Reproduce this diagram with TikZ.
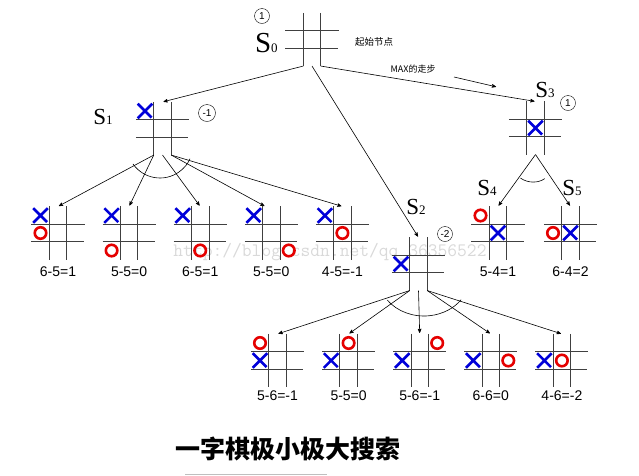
\documentclass[tikz,border=0pt]{standalone}
\usepackage{fontspec}
\setmainfont{Liberation Serif}
\setsansfont{Liberation Sans}
\newfontfamily\cjk{Noto Sans CJK SC}
\usetikzlibrary{arrows,shapes,positioning}
\tikzstyle{board} = [rectangle, minimum size=52.5pt, inner sep=0pt]
\tikzstyle{slab} = [inner sep=0pt, anchor=base east, font=\fontsize{23}{23}\selectfont]
\tikzstyle{score} = [inner sep=0pt, font=\sffamily\fontsize{14}{14}\selectfont]
\tikzstyle{xm} = [-, cross out, draw=blue!85!black, line width=2.6pt,
    minimum size=12pt, inner sep=0pt]
\tikzstyle{om} = [-, circle, draw=red!90!black, line width=2.6pt,
    minimum size=11.5pt, inner sep=0pt]
\tikzstyle{val} = [-, circle, draw, thin, inner sep=0pt, minimum size=15pt,
    font=\sffamily\fontsize{10}{10}\selectfont]
\tikzstyle{gl} = [-, black!75, line width=0.8pt]
\newcommand\sidx[1]{{\fontsize{13}{13}\selectfont #1}}
\newcommand\grid[1]{\draw[gl] ([xshift=-8.75pt]#1.north) -- ([xshift=-8.75pt]#1.south)
    ([xshift=8.75pt]#1.north) -- ([xshift=8.75pt]#1.south)
    ([yshift=8.75pt]#1.west) -- ([yshift=8.75pt]#1.east)
    ([yshift=-8.75pt]#1.west) -- ([yshift=-8.75pt]#1.east);}

\begin{document}
\begin{tikzpicture}[->,>=stealth',shorten >=1pt,semithick,x=1pt,y=-1pt]
  \useasboundingbox (0,0) rectangle (639,475);

  \node[inner sep=0pt,text=gray!30,font=\ttfamily\fontsize{19}{19}\selectfont] (wm) at (330,252) {http://blog.csdn.net/qq\_36356522};

  % boards
  \node[board] (s0) at (312,39.5) {};
  \node[board] (s1) at (162.5,128.5) {};
  \node[board] (s2) at (418.5,264) {};
  \node[board] (s3) at (535.5,128) {};
  \node[board] (s4) at (498,233) {};
  \node[board] (s5) at (570.5,233) {};
  \node[board] (c1) at (58,233) {};
  \node[board] (c2) [right=18pt of c1] {};
  \node[board] (c3) [right=18pt of c2] {};
  \node[board] (c4) [right=18pt of c3] {};
  \node[board] (c5) [right=18pt of c4] {};
  \node[board] (d1) at (277.5,360.5) {};
  \node[board] (d2) [right=18pt of d1] {};
  \node[board] (d3) [right=18pt of d2] {};
  \node[board] (d4) [right=18pt of d3] {};
  \node[board] (d5) [right=18pt of d4] {};
  \grid{s0} \grid{s1} \grid{s2} \grid{s3} \grid{s4} \grid{s5}
  \grid{c1} \grid{c2} \grid{c3} \grid{c4} \grid{c5}
  \grid{d1} \grid{d2} \grid{d3} \grid{d4} \grid{d5}

  % marks
  \node[xm] (s1x) at ([shift={(-17.5pt,17.5pt)}]s1.center) {};
  \node[xm] (s2x) at ([shift={(-17.5pt,0pt)}]s2.center) {};
  \node[xm] (s3x) at (s3.center) {};
  \node[om] (s4o) at ([shift={(-17.5pt,17.5pt)}]s4.center) {};
  \node[xm] (s4x) at (s4.center) {};
  \node[om] (s5o) at ([shift={(-17.5pt,0pt)}]s5.center) {};
  \node[xm] (s5x) at (s5.center) {};
  \node[xm] (c1x) at ([shift={(-17.5pt,17.5pt)}]c1.center) {};
  \node[om] (c1o) at ([shift={(-17.5pt,0pt)}]c1.center) {};
  \node[xm] (c2x) at ([shift={(-17.5pt,17.5pt)}]c2.center) {};
  \node[om] (c2o) at ([shift={(-17.5pt,-17.5pt)}]c2.center) {};
  \node[xm] (c3x) at ([shift={(-17.5pt,17.5pt)}]c3.center) {};
  \node[om] (c3o) at ([shift={(0pt,-17.5pt)}]c3.center) {};
  \node[xm] (c4x) at ([shift={(-17.5pt,17.5pt)}]c4.center) {};
  \node[om] (c4o) at ([shift={(17.5pt,-17.5pt)}]c4.center) {};
  \node[xm] (c5x) at ([shift={(-17.5pt,17.5pt)}]c5.center) {};
  \node[om] (c5o) at (c5.center) {};
  \node[om] (d1o) at ([shift={(-17.5pt,17.5pt)}]d1.center) {};
  \node[xm] (d1x) at ([shift={(-17.5pt,0pt)}]d1.center) {};
  \node[om] (d2o) at ([shift={(0pt,17.5pt)}]d2.center) {};
  \node[xm] (d2x) at ([shift={(-17.5pt,0pt)}]d2.center) {};
  \node[om] (d3o) at ([shift={(17.5pt,17.5pt)}]d3.center) {};
  \node[xm] (d3x) at ([shift={(-17.5pt,0pt)}]d3.center) {};
  \node[xm] (d4x) at ([shift={(-17.5pt,0pt)}]d4.center) {};
  \node[om] (d4o) at ([shift={(17.5pt,0pt)}]d4.center) {};
  \node[xm] (d5x) at ([shift={(-17.5pt,0pt)}]d5.center) {};
  \node[om] (d5o) at (d5.center) {};

  % labels
  \node[slab,font=\fontsize{29}{29}\selectfont] (l0) at (278,52) {S\sidx{0}};
  \node[slab] (l1) at (113,124) {S\sidx{1}};
  \node[slab] (l2) at (426,214) {S\sidx{2}};
  \node[slab] (l3) at (555,97) {S\sidx{3}};
  \node[slab] (l4) at (497,195) {S\sidx{4}};
  \node[slab] (l5) at (582,195) {S\sidx{5}};
  \node[val] (v0) at (262,16) {1};
  \node[val,minimum size=17pt] (v1) at (207,113) {-1};
  \node[val] (v2) at (445,234) {-2};
  \node[val] (v3) at (568,103) {1};
  \node[font=\cjk\fontsize{9.5}{9.5}\selectfont] (start) at (374,42) {起始节点};

  \node[score] (r1) [below=7pt of c1] {6-5=1};
  \node[score] (r2) [below=7pt of c2] {5-5=0};
  \node[score] (r3) [below=7pt of c3] {6-5=1};
  \node[score] (r4) [below=7pt of c4] {5-5=0};
  \node[score] (r5) [below=7pt of c5] {4-5=-1};
  \node[score] (r6) [below=7pt of s4] {5-4=1};
  \node[score] (r7) [below=7pt of s5] {6-4=2};
  \node[score] (q1) [below=3pt of d1] {5-6=-1};
  \node[score] (q2) [below=3pt of d2] {5-5=0};
  \node[score] (q3) [below=3pt of d3] {5-6=-1};
  \node[score] (q4) [below=3pt of d4] {6-6=0};
  \node[score] (q5) [below=3pt of d5] {4-6=-2};

  % moves
  \path ([xshift=-8.75pt]s0.south) edge (s1.north)
        (s0.south) edge (s2.north)
        ([xshift=8.75pt]s0.south) edge node[pos=0.43,above=4pt,font=\cjk\fontsize{9}{9}\selectfont] (max) {MAX的走步} (s3.north);
  \coordinate (m1) at (454,77);
  \coordinate (m2) at (497,87);
  \draw (m1) -- (m2);

  \path ([xshift=-8.75pt]s1.south) edge (c1.north) edge (c2.north)
        (s1.south) edge (c3.north)
        ([xshift=8.75pt]s1.south) edge ([xshift=-6pt]c4.north) edge (c5.north);
  \path ([xshift=-8.75pt]s2.south) edge (d1.north) edge (d2.north)
        (s2.south) edge (d3.north)
        ([xshift=8.75pt]s2.south) edge (d4.north) edge (d5.north);
  \path (s3.south) edge (s4.north) edge (s5.north);

  \draw[-] (160,145) ++(215:33pt) arc[start angle=215,end angle=337,radius=33pt];
  \draw[-] (424,276) ++(217:46pt and 40pt) arc[start angle=217,end angle=325,x radius=46pt,y radius=40pt];
  \draw[-] (533,160) ++(235:22pt) arc[start angle=235,end angle=305,radius=22pt];

  \node[font=\cjk\bfseries\fontsize{25}{25}\selectfont] (title) at (288,449) {一字棋极小极大搜索};
  \draw[-,gray!50,line width=1pt] (185,474) -- (328,474);
\end{tikzpicture}
\end{document}
